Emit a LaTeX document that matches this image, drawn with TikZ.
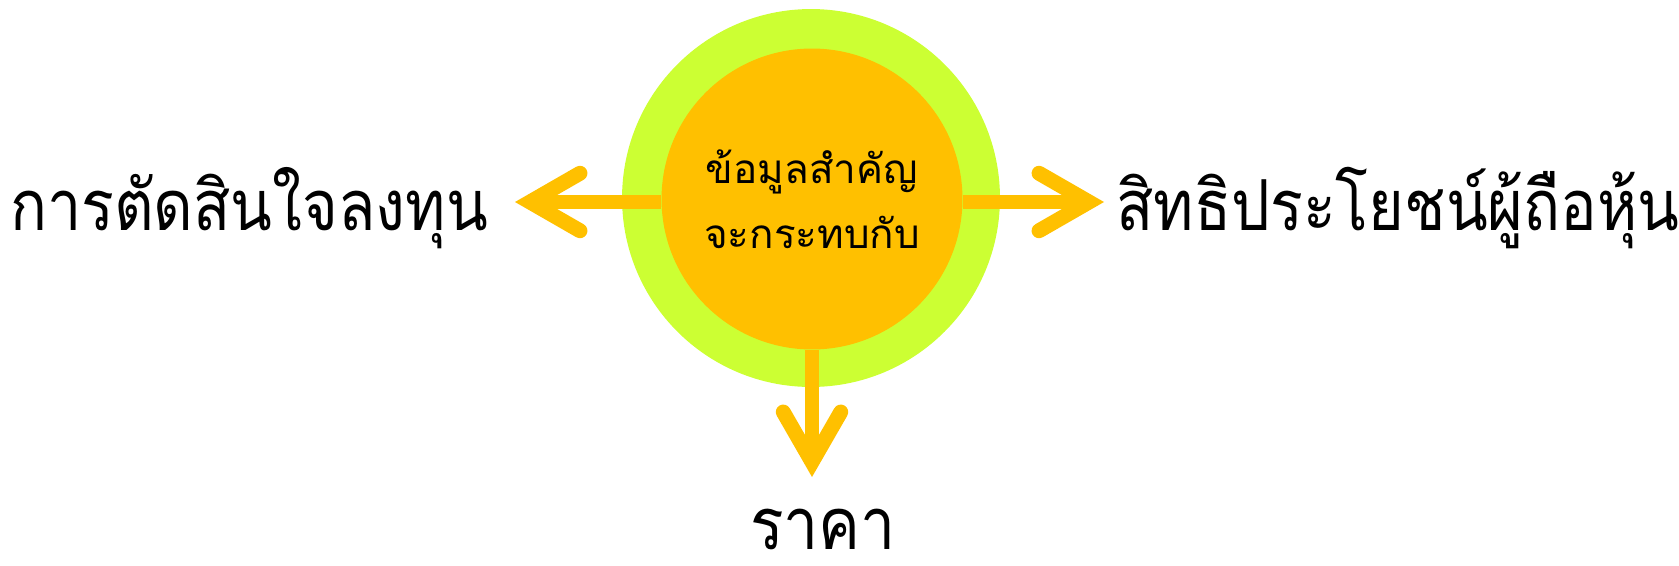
\documentclass[tikz,border=0pt]{standalone}
\usepackage{fontspec}
\usetikzlibrary{arrows.meta,positioning}
\newfontfamily\thaifont[Script=Thai]{Loma}
\newfontfamily\thainarrow[Script=Thai, FakeStretch=0.87]{Loma}
\definecolor{ringgreen}{HTML}{CCFF33}
\definecolor{coregold}{HTML}{FFC000}

\begin{document}
\begin{tikzpicture}[x=0.02cm, y=-0.02cm,
    ring/.style={circle, fill=ringgreen, minimum size=7.56cm, inner sep=0pt},
    core/.style={circle, fill=coregold, minimum size=6.02cm, inner sep=0pt,
      align=center, font=\thaifont\fontsize{23}{37}\selectfont},
    sidetext/.style={font=\thainarrow\fontsize{40}{44}\selectfont, anchor=base, inner sep=0pt},
    arrow/.style={draw=coregold, line width=8.5pt,
      -{Straight Barb[length=1cm, width=1.15cm, line cap=round, line join=miter]}}
  ]
  \useasboundingbox (0,0) rectangle (1679,565);
  \node[ring] (ring) at (811,198) {};
  \node[core] (core) at (812,199) {ข้อมูลสำคัญ\\จะกระทบกับ};

  \coordinate (tipL) at (515,202);
  \coordinate (tipR) at (1104,202);
  \coordinate (tipD) at (812,477);

  \draw[arrow] (core.west |- tipL) -- (tipL);
  \draw[arrow] (core.east |- tipR) -- (tipR);
  \draw[arrow] (core.south) -- (tipD);

  \node[sidetext] (decide) at (249,230) {การตัดสินใจลงทุน};
  \node[sidetext] (rights) at (1398,230) {สิทธิประโยชน์ผู้ถือหุ้น};
  \node[sidetext, text depth=0pt, font=\thainarrow\fontsize{41}{45}\selectfont] (price) at (823,549) {ราคา};
\end{tikzpicture}
\end{document}
